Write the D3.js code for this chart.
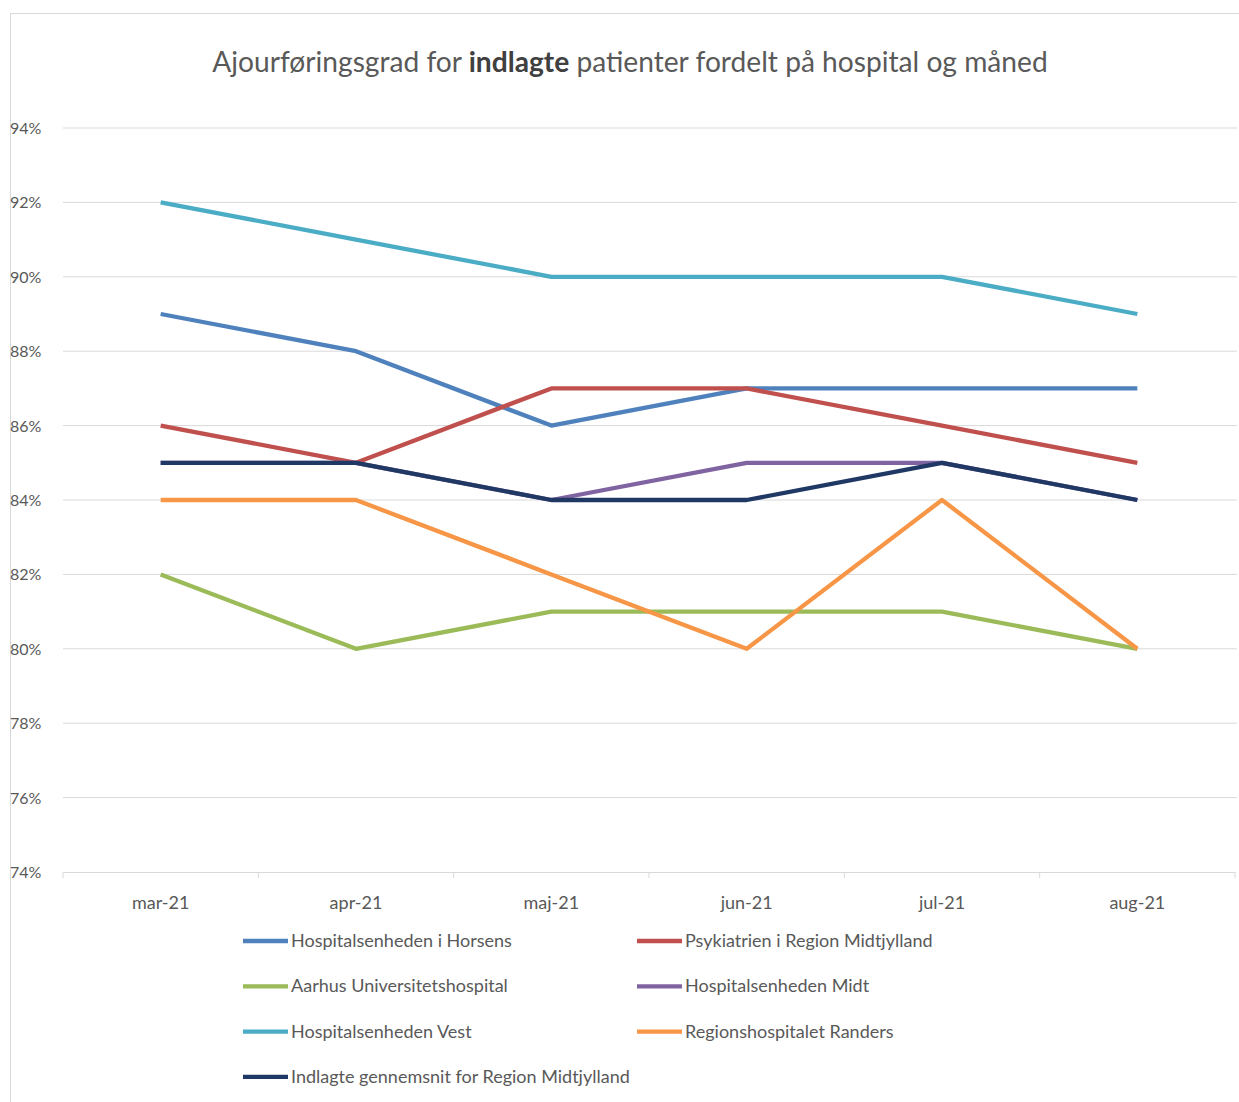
<!DOCTYPE html>
<html><head><meta charset="utf-8">
<script src="https://cdn.jsdelivr.net/npm/d3@7"></script>
<style>body{margin:0;background:#fff}svg{display:block}text{font-family:"Lato",sans-serif}</style>
</head><body>
<svg id="c" width="1239" height="1102"></svg>
<script>
const months = ["mar-21","apr-21","maj-21","jun-21","jul-21","aug-21"];
const yTicks = [74,76,78,80,82,84,86,88,90,92,94];
const seriesNames = ["Hospitalsenheden i Horsens","Psykiatrien i Region Midtjylland","Aarhus Universitetshospital","Hospitalsenheden Midt","Hospitalsenheden Vest","Regionshospitalet Randers","Indlagte gennemsnit for Region Midtjylland"];
const horsens = [89,88,86,87,87,87];
const psykiatrien = [86,85,87,87,86,85];
const aarhus = [82,80,81,81,81,80];
const midt = [85,85,84,85,85,84];
const vest = [92,91,90,90,90,89];
const randers = [84,84,82,80,84,80];
const gennemsnit = [85,85,84,84,85,84];
const colors = ["#4F81BD","#C0504D","#9BBB59","#8064A2","#4BACC6","#F79646","#1F3864"];
const values = [horsens,psykiatrien,aarhus,midt,vest,randers,gennemsnit];

const svg = d3.select("#c");
svg.append("rect").attr("x",10.5).attr("y",13.5).attr("width",1240).attr("height",1100)
  .attr("fill","none").attr("stroke","#d9d9d9").attr("stroke-width",1);

const x = d3.scaleBand().domain(months).range([63,1235]);
const y = d3.scaleLinear().domain([74,94]).range([872,128]);

svg.append("g").selectAll("line").data(yTicks.filter(t=>t>74)).join("line")
  .attr("x1",63).attr("x2",1237).attr("y1",d=>y(d)).attr("y2",d=>y(d))
  .attr("stroke","#d9d9d9").attr("stroke-width",1);

svg.append("g").selectAll("text").data(yTicks).join("text")
  .attr("x",10).attr("y",d=>y(d)+6).attr("fill","#595959").attr("font-size",16)
  .text(d=>d+"%");

const xa = svg.append("g").attr("transform","translate(0,872)")
  .call(d3.axisBottom(x).tickSize(0).tickPadding(24));
xa.select(".domain").attr("stroke","#d9d9d9");
xa.selectAll("text").attr("fill","#595959").attr("font-size",18).style("font-family","Lato, sans-serif");
const edges = months.map(m=>x(m)).concat([x.range()[1]]);
svg.append("g").selectAll("line").data(edges).join("line")
  .attr("x1",d=>d).attr("x2",d=>d).attr("y1",872).attr("y2",878).attr("stroke","#d9d9d9");

const line = d3.line().x((d,i)=>x(months[i])+x.bandwidth()/2).y(d=>y(d));
svg.append("g").selectAll("path").data(values).join("path")
  .attr("d",d=>line(d)).attr("fill","none")
  .attr("stroke",(d,i)=>colors[i]).attr("stroke-width",4.3).attr("stroke-linejoin","round");

// title
const t = svg.append("text").attr("x",630).attr("y",72).attr("text-anchor","middle")
  .attr("font-size",31).attr("fill","#595959");
t.append("tspan").text("Ajourføringsgrad for ");
t.append("tspan").attr("font-weight","bold").attr("fill","#404040").text("indlagte");
t.append("tspan").text(" patienter fordelt på hospital og måned");
const w = t.node().getComputedTextLength();
t.attr("font-size", 31*836/w);

const lg = svg.append("g");
seriesNames.forEach((n,i)=>{
  const col = i%2, row = Math.floor(i/2);
  const lx = col===0?243:637, ly = 941 + row*45.3;
  lg.append("line").attr("x1",lx).attr("x2",lx+45).attr("y1",ly).attr("y2",ly)
    .attr("stroke",colors[i]).attr("stroke-width",4.3);
  lg.append("text").attr("x",lx+48).attr("y",ly+6).attr("font-size",18).attr("fill","#595959").text(n);
});
</script>
</body></html>
